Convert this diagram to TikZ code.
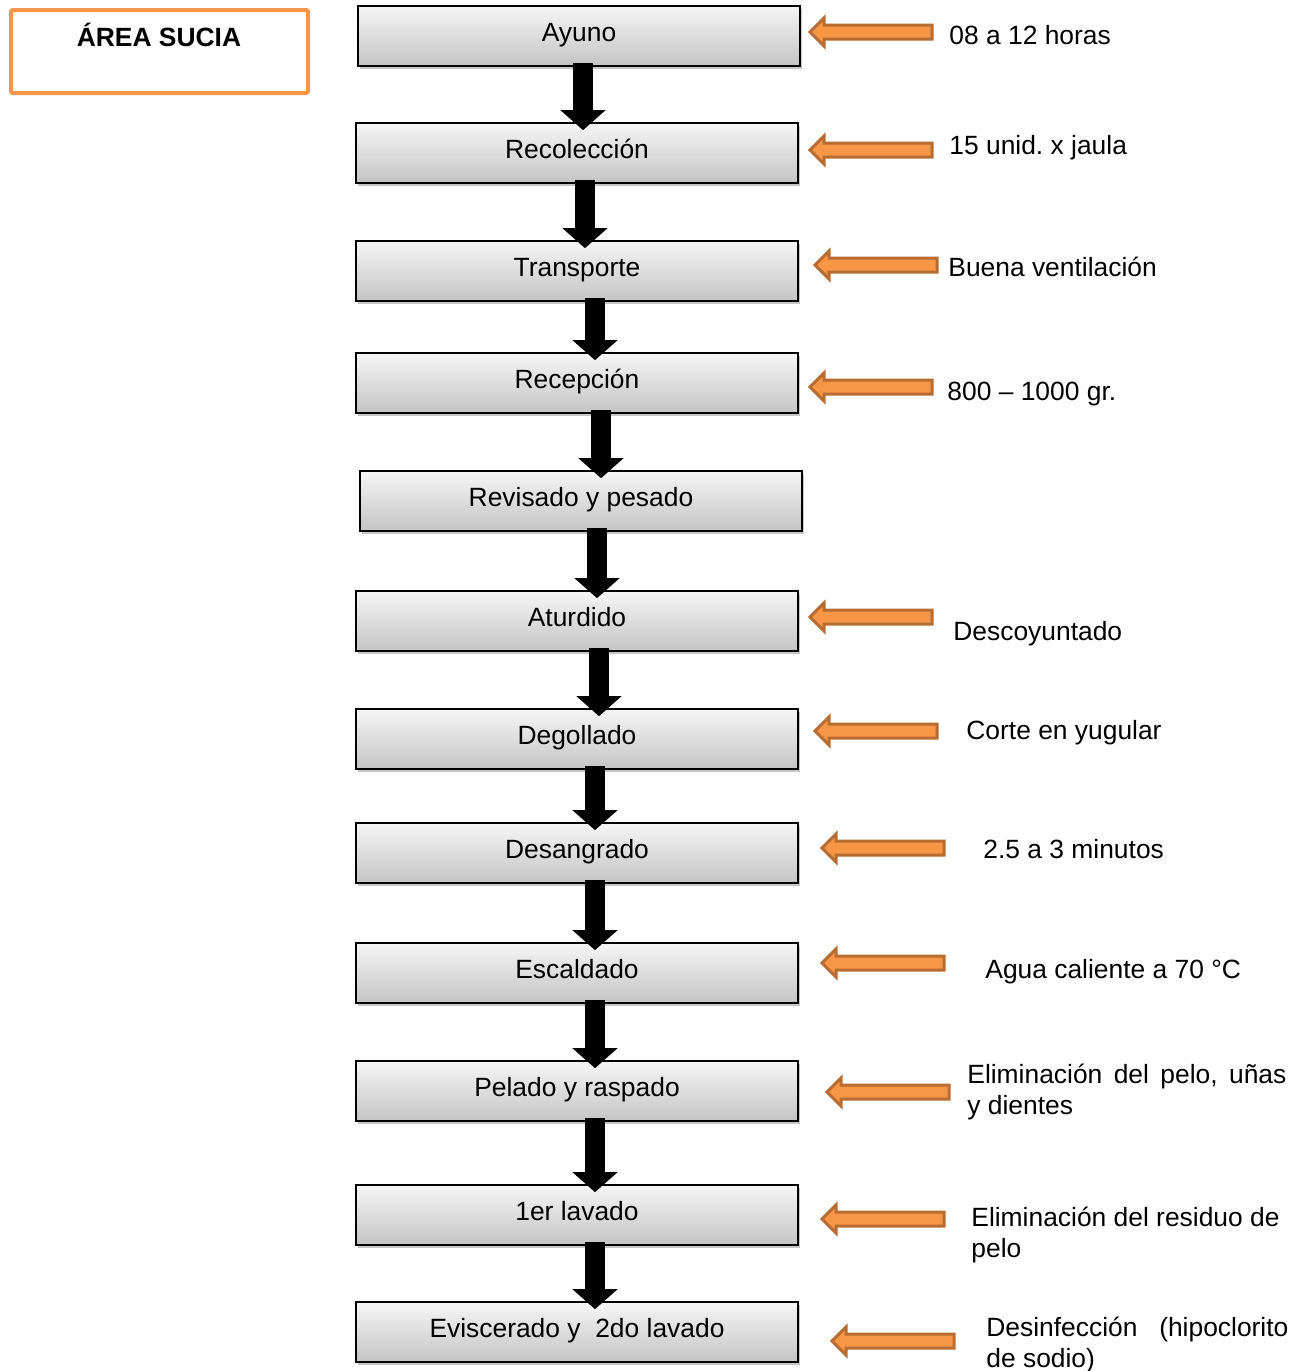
\documentclass[tikz,border=0pt]{standalone}
\usepackage{fontspec}
\setmainfont{Liberation Sans}
\usetikzlibrary{shapes.arrows,shadows,arrows.meta,calc}
\definecolor{orfill}{RGB}{247,150,70}
\definecolor{ordraw}{RGB}{184,108,50}
\definecolor{boxtop}{RGB}{246,246,246}
\definecolor{boxbot}{RGB}{196,196,196}
\frenchspacing
\begin{document}
\begin{tikzpicture}[x=0.5pt,y=-0.5pt,
  every node/.style={font=\fontsize{13.2}{15.5}\selectfont},
  stepbox/.style={draw=black, line width=0.8pt, minimum width=221pt, minimum height=30pt,
    inner sep=0pt, top color=boxtop, bottom color=boxbot,
    text height=9.5pt, text depth=4.5pt,
    drop shadow={shadow xshift=1pt, shadow yshift=-1.5pt, opacity=0.45}},
  blk/.style={line width=10pt, black, -{Triangle[width=22pt,length=10pt]}},
  oarrow/.style={single arrow, shape border rotate=180, fill=orfill, draw=ordraw,
    line width=1.5pt, minimum height=61pt, minimum width=12.5pt,
    single arrow head extend=3.5pt, inner xsep=0pt, inner ysep=2.75pt,
    text height=0pt, text depth=0pt},
  note/.style={anchor=base west, inner sep=0pt}]
\useasboundingbox (0,0) rectangle (1307,1371);

% area box
\draw[orfill, line width=2pt, rounded corners=1pt] (11,10) rectangle (308,93);
\node[anchor=base, inner sep=0pt, font=\fontsize{13.2}{15.5}\selectfont\bfseries] (area) at (159,46) {ÁREA SUCIA};

% process boxes
\node[stepbox] (b1) at (579,36) {Ayuno};
\node[stepbox] (b2) at (577,153) {Recolección};
\node[stepbox] (b3) at (577,271) {Transporte};
\node[stepbox] (b4) at (577,383) {Recepción};
\node[stepbox] (b5) at (581,501) {Revisado y pesado};
\node[stepbox] (b6) at (577,621) {Aturdido};
\node[stepbox] (b7) at (577,739) {Degollado};
\node[stepbox] (b8) at (577,853) {Desangrado};
\node[stepbox] (b9) at (577,973) {Escaldado};
\node[stepbox] (b10) at (577,1091) {Pelado y raspado};
\node[stepbox] (b11) at (577,1215) {1er lavado};
\node[stepbox] (b12) at (577,1332) {Eviscerado y \ 2do lavado};

% black arrows
\foreach \a/\b/\x in {b1/b2/583, b2/b3/585, b3/b4/595, b4/b5/601, b5/b6/597, b6/b7/599,
                      b7/b8/595, b8/b9/595, b9/b10/595, b10/b11/595, b11/b12/595}{
  \coordinate (ax) at (\x,0);
  \draw[blk] ($(\a.south -| ax)+(0,-4)$) -- ($(\b.north -| ax)+(0,8)$);
}

% orange arrows
\node[oarrow] (o1) at (874.5,32) {};
\node[oarrow] (o2) at (874.5,150) {};
\node[oarrow] (o3) at (879.5,265) {};
\node[oarrow] (o4) at (874.5,387) {};
\node[oarrow] (o6) at (874.5,617) {};
\node[oarrow] (o7) at (879.5,731) {};
\node[oarrow] (o8) at (886.5,848) {};
\node[oarrow] (o9) at (886.5,963) {};
\node[oarrow] (o10) at (891.5,1092) {};
\node[oarrow] (o11) at (886.5,1219) {};
\node[oarrow] (o12) at (896.5,1341) {};

% notes
\node[note] (n1) at (949,44) {08 a 12 horas};
\node[note] (n2) at (949,154) {15 unid. x jaula};
\node[note] (n3) at (948,276) {Buena ventilación};
\node[note] (n4) at (947,400) {800 – 1000 gr.};
\node[note] (n6) at (953,640) {Descoyuntado};
\node[note] (n7) at (966,739) {Corte en yugular};
\node[note] (n8) at (983,858) {2.5 a 3 minutos};
\node[note] (n9) at (985,978) {Agua caliente a 70 °C};
\node[note] (n10) at (967,1083) {\parbox[t]{159.5pt}{\leavevmode\hbox to 159.5pt{Eliminación\hfill del\hfill pelo,\hfill uñas}\\y dientes}};
\node[note] (n11) at (971,1226) {\parbox[t]{170pt}{Eliminación del residuo de\\pelo}};
\node[note] (n12) at (986,1336) {\parbox[t]{151pt}{\leavevmode\hbox to 151pt{Desinfección\hfill(hipoclorito}\\de sodio)}};
\end{tikzpicture}
\end{document}
